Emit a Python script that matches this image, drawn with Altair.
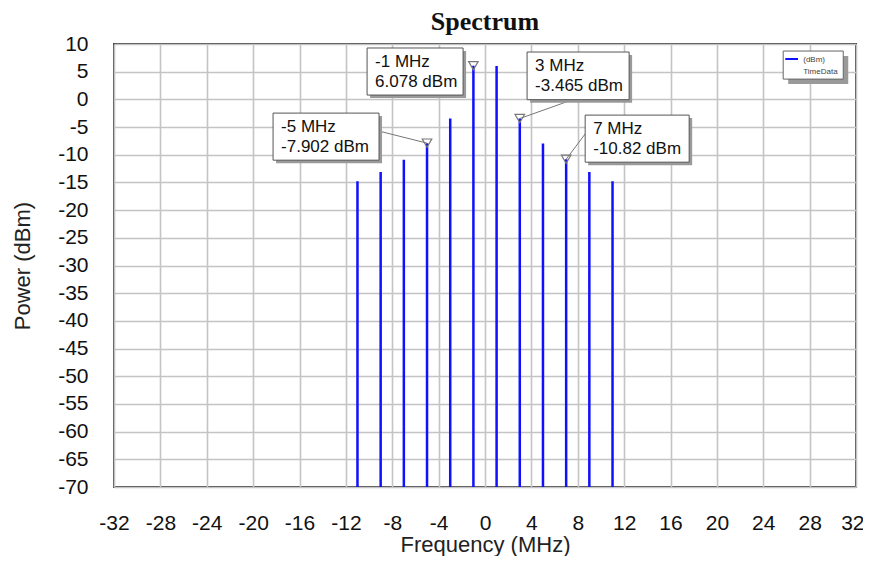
import altair as alt
import pandas as pd

# ---- data ----
freq = [-11, -9, -7, -5, -3, -1, 1, 3, 5, 7, 9, 11]
power = [-14.8, -13.1, -10.9, -7.902, -3.45, 6.078, 6.02, -3.465, -7.95, -10.82, -13.1, -14.8]
x_ticks = list(range(-32, 33, 4))
y_ticks = list(range(-70, 11, 5))

marker_freq = [-5, -1, 3, 7]
marker_power = [-7.902, 6.078, -3.465, -10.82]
marker_line1 = ["-5 MHz", "-1 MHz", "3 MHz", "7 MHz"]
marker_line2 = ["-7.902 dBm", "6.078 dBm", "-3.465 dBm", "-10.82 dBm"]
# annotation boxes (data units)
box_x1 = [-18.28, -10.17, 3.63, 8.64]
box_x2 = [-9.14, -1.89, 12.43, 17.61]
box_top = [-2.48, 9.28, 8.55, -2.84]
box_bot = [-10.98, 0.78, -0.05, -11.34]
lead_x = [-9.14, -1.0, 7.06, 8.78]
lead_y = [-5.73, 6.078, -0.43, -5.86]

legend_series = "(dBm)"
legend_sub = "TimeData"

FONT = "Liberation Sans"
BLUE = "#1010ff"

bars_df = pd.DataFrame({"f": freq, "p": power, "base": [-70] * len(freq)})
ann_df = pd.DataFrame({
    "f": marker_freq, "p": marker_power, "l1": marker_line1, "l2": marker_line2,
    "x1": box_x1, "x2": box_x2, "yt": box_top, "yb": box_bot,
    "lx": lead_x, "ly": lead_y,
})
leg_df = pd.DataFrame({
    "x1": [25.72], "x2": [30.9], "yt": [8.73], "yb": [3.66],
    "lx1": [25.9], "lx2": [27.0], "ly": [7.29],
    "tx": [27.45], "ty1": [7.1], "ty2": [4.94],
    "t1": [legend_series], "t2": [legend_sub],
})

xscale = alt.Scale(domain=[-32, 32], nice=False, zero=False)
yscale = alt.Scale(domain=[-70, 10], nice=False, zero=False)

xaxis = alt.Axis(values=x_ticks, title="Frequency (MHz)", labelFontSize=21, titleFontSize=22,
                 labelFont=FONT, titleFont=FONT, labelColor="#111", titleColor="#222",
                 labelExpr="'' + datum.value",
                 labelAlign={"condition": {"test": "datum.value == 32", "value": "right"}, "value": "center"},
                 labelOffset={"condition": {"test": "datum.value == 32", "value": 8}, "value": 0},
                 titleFontWeight="normal", ticks=False, domain=False, labelPadding=25,
                 titlePadding=1, grid=True, gridColor="#c4c4c4", gridWidth=1.6,
                 labelFlush=False)
yaxis = alt.Axis(values=y_ticks, title="Power (dBm)", labelFontSize=21, titleFontSize=22,
                 labelFont=FONT, titleFont=FONT, labelColor="#111", titleColor="#222",
                 labelExpr="'' + datum.value",
                 titleFontWeight="normal", ticks=False, domain=False, labelPadding=26,
                 titlePadding=23, grid=True, gridColor="#c4c4c4", gridWidth=1.6,
                 labelFlush=False)

X = lambda f: alt.X(f, type="quantitative", scale=xscale, axis=xaxis)
Y = lambda f: alt.Y(f, type="quantitative", scale=yscale, axis=yaxis)

bars = alt.Chart(bars_df).mark_rule(color=BLUE, strokeWidth=2.5).encode(
    x=X("f"), y=Y("p"), y2="base:Q",
)

ann = alt.Chart(ann_df)
leaders = ann.mark_rule(color="#777", strokeWidth=1).encode(
    x=X("lx"), y=Y("ly"), x2="f:Q", y2="p:Q")
tri = ann.mark_point(shape="triangle-down", filled=False, color="#777", size=90,
                     strokeWidth=1.2, opacity=1).encode(x=X("f"), y=Y("p"))
shadow = ann.mark_rect(fill="#9a9a9a", xOffset=3, yOffset=3, x2Offset=3, y2Offset=3).encode(
    x=X("x1"), x2="x2:Q", y=Y("yt"), y2="yb:Q")
box = ann.mark_rect(fill="white", stroke="#555", strokeWidth=1).encode(
    x=X("x1"), x2="x2:Q", y=Y("yt"), y2="yb:Q")
t1 = ann.mark_text(align="left", baseline="middle", font=FONT, fontSize=17, color="#111",
                   dx=8, dy=14).encode(x=X("x1"), y=Y("yt"), text="l1:N")
t2 = ann.mark_text(align="left", baseline="middle", font=FONT, fontSize=17, color="#111",
                   dx=8, dy=34).encode(x=X("x1"), y=Y("yt"), text="l2:N")

leg = alt.Chart(leg_df)
leg_shadow = leg.mark_rect(fill="#9a9a9a", xOffset=5, yOffset=5, x2Offset=5, y2Offset=5).encode(
    x=X("x1"), x2="x2:Q", y=Y("yt"), y2="yb:Q")
leg_box = leg.mark_rect(fill="white", stroke="#666", strokeWidth=1).encode(
    x=X("x1"), x2="x2:Q", y=Y("yt"), y2="yb:Q")
leg_line = leg.mark_rule(color=BLUE, strokeWidth=2).encode(
    x=X("lx1"), x2="lx2:Q", y=Y("ly"))
leg_t1 = leg.mark_text(align="left", baseline="middle", font=FONT, fontSize=8, color="#444").encode(
    x=X("tx"), y=Y("ty1"), text="t1:N")
leg_t2 = leg.mark_text(align="left", baseline="middle", font=FONT, fontSize=8, color="#444").encode(
    x=X("tx"), y=Y("ty2"), text="t2:N")

chart = alt.layer(
    bars, leaders, tri, shadow, box, t1, t2, leg_shadow, leg_box, leg_line, leg_t1, leg_t2
).properties(
    width=742, height=443,
    title=alt.TitleParams("Spectrum", font="Liberation Serif", fontSize=26, fontWeight="bold",
                          color="#111", anchor="middle", offset=-2),
    autosize=alt.AutoSizeParams(type="none"),
    padding={"left": 106, "top": 36, "right": 7, "bottom": 69},
    background="white",
).configure_view(stroke="#444", strokeWidth=2)

chart.save("out.html", embed_options={"renderer": "svg", "actions": False})
